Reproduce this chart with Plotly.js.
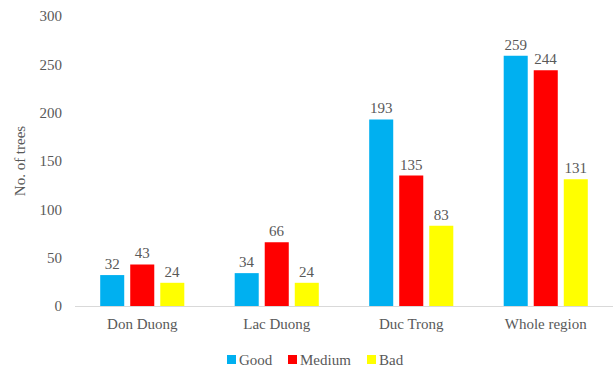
<!DOCTYPE html>
<html><head><meta charset="utf-8">
<script src="https://cdn.plot.ly/plotly-3.0.1.min.js"></script>
<style>body{margin:0;background:#fff}</style>
</head><body>
<div id="chart" style="width:616px;height:373px"></div>
<script>
const categories = ["Don Duong", "Lac Duong", "Duc Trong", "Whole region"];
const seriesNames = ["Good", "Medium", "Bad"];
const good = [32, 34, 193, 259];
const medium = [43, 66, 135, 244];
const bad = [24, 24, 83, 131];
const yTicks = [0, 50, 100, 150, 200, 250, 300];

const colors = ["#00B0F0", "#FF0000", "#FFFF00"];
const FAM = "Liberation Serif";
const GREY = "#595959";
function tr(name, vals, color) {
  return {type: "bar", name: name, x: categories, y: vals, marker: {color: color},
    text: vals.map(String), textposition: "outside", cliponaxis: false, constraintext: "none",
    textfont: {family: FAM, size: 15, color: GREY}};
}
const allVals = [good, medium, bad];
const data = seriesNames.map((n, i) => tr(n, allVals[i], colors[i]));

// legend drawn as paper-referenced squares + text (layout positions only)
const L = 75, W = 538, B = 306, H = 290;
const px = v => (v - L) / W, py = v => (B - v) / H;
const legSquareX = [227, 288, 367];
const shapes = [], annotations = [];
seriesNames.forEach((n, i) => {
  shapes.push({type: "rect", xref: "paper", yref: "paper",
    x0: px(legSquareX[i]), x1: px(legSquareX[i] + 9), y0: py(364), y1: py(355),
    fillcolor: colors[i], line: {width: 0}});
  annotations.push({text: n, xref: "paper", yref: "paper", x: px(legSquareX[i] + 11), y: py(359.5),
    xanchor: "left", yanchor: "middle", showarrow: false, borderpad: 0,
    font: {family: FAM, size: 15, color: GREY}});
});

const layout = {
  width: 616, height: 373,
  margin: {l: 75, r: 3, t: 16, b: 67},
  paper_bgcolor: "#fff", plot_bgcolor: "#fff",
  font: {family: FAM, size: 15, color: GREY},
  barmode: "group", bargap: 0.33, bargroupgap: 0.2,
  showlegend: false,
  xaxis: {showline: true, linecolor: "#d9d9d9", linewidth: 1, ticks: "", showgrid: false, zeroline: false,
    automargin: false, ticklabelstandoff: 4, tickfont: {family: FAM, size: 15, color: GREY}},
  yaxis: {range: [0, 300], tickvals: yTicks, showgrid: false, zeroline: false, showline: false, ticks: "",
    automargin: false, ticklabelstandoff: 12,
    tickfont: {family: FAM, size: 15, color: GREY},
    title: {text: "No. of trees", font: {family: FAM, size: 15, color: GREY}, standoff: 10}},
  shapes: shapes,
  annotations: annotations
};
Plotly.newPlot("chart", data, layout, {displayModeBar: false, staticPlot: true});
</script>
</body></html>
